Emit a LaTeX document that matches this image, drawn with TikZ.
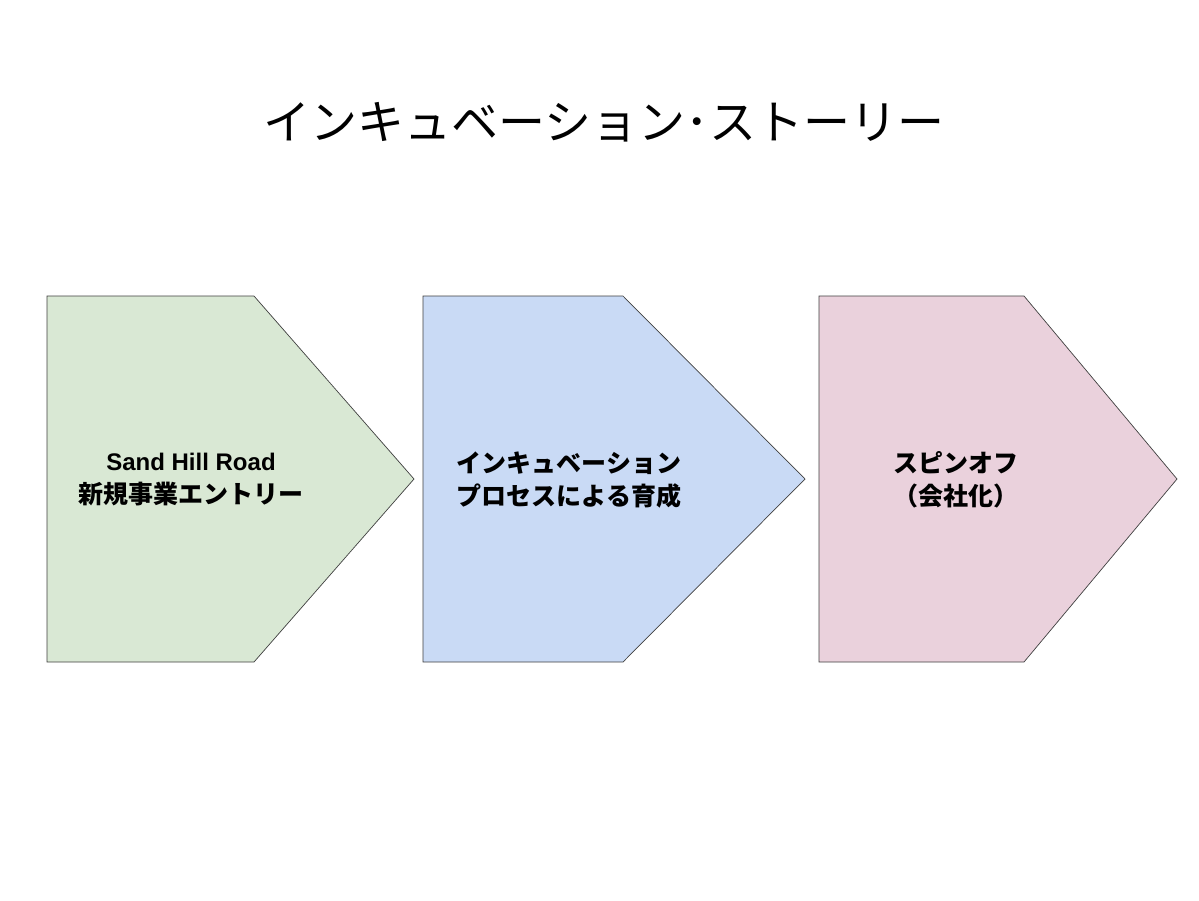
\documentclass[tikz,border=0pt]{standalone}
\usepackage{fontspec}
\setmainfont{Noto Sans CJK JP}
\newfontfamily\latinb{Liberation Sans}
\definecolor{cgreen}{HTML}{D9E8D4}
\definecolor{cblue}{HTML}{C9DAF5}
\definecolor{cpink}{HTML}{EAD1DC}
\tikzset{
  chev/.style={draw=black!75, line width=0.7pt, line join=miter},
  lbl/.style={font=\fontsize{25}{33}\selectfont\bfseries, align=center, inner sep=0pt, text=black},
  ttl/.style={font=\fontsize{47}{50}\selectfont, inner sep=0pt, text=black}
}
\begin{document}
\begin{tikzpicture}[x=1pt,y=-1pt]
\useasboundingbox[fill=white] (0,0) rectangle (1199,900);
\node[ttl] (title) at (604,122) {インキュベーション･ストーリー};
\draw[chev, fill=cgreen] (47,296) -- (254,296) -- (414,479) -- (254,662) -- (47,662) -- cycle;
\draw[chev, fill=cblue] (423,296) -- (623,296) -- (805,479) -- (623,662) -- (423,662) -- cycle;
\draw[chev, fill=cpink] (819,296) -- (1024,296) -- (1177,479) -- (1024,662) -- (819,662) -- cycle;
\node[lbl] (a) at (191,480) {{\latinb\fontsize{24}{33}\selectfont\bfseries Sand Hill Road}\\新規事業エントリー};
\node[lbl] (b) at (569,480) {インキュベーション\\プロセスによる育成};
\node[lbl] (c) at (956,480) {スピンオフ\\（会社化）};
\end{tikzpicture}
\end{document}
